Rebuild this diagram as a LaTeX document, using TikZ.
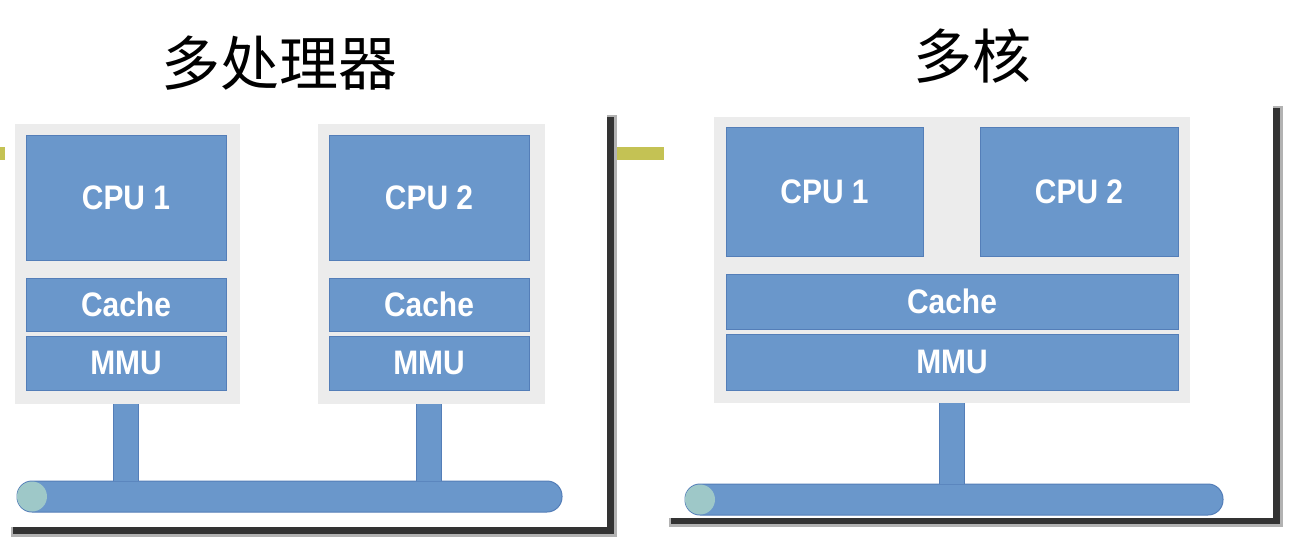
\documentclass[tikz,border=0pt]{standalone}
\usepackage{fontspec}
\newfontfamily\cjk{Noto Sans CJK SC}
\newfontfamily\lblfont{Liberation Sans}
\usetikzlibrary{positioning}
\definecolor{cpublue}{RGB}{106,151,203}
\definecolor{cpuedge}{RGB}{84,126,184}
\definecolor{boxgrey}{RGB}{236,236,236}
\definecolor{busend}{RGB}{158,200,200}
\definecolor{olive}{RGB}{196,194,84}
\newcommand{\lbl}[1]{\scalebox{0.88}[1]{#1}}

\begin{document}
\begin{tikzpicture}[x=1pt,y=-1pt,
				every node/.style={outer sep=0pt,inner sep=0pt},
				unit/.style={fill=cpublue,draw=cpuedge,line width=1pt,text=white,
					font=\lblfont\bfseries\fontsize{34}{34}\selectfont},
				greybox/.style={fill=boxgrey},
				stem/.style={draw=cpuedge,double=cpublue,double distance=24pt,line width=1pt},
				bus/.style={fill=cpublue,draw=cpuedge,line width=1pt,rounded corners=15pt,minimum height=31pt},
				busdot/.style={circle,fill=busend,minimum size=30pt},
				title/.style={font=\cjk\fontsize{59}{59}\selectfont}]
				\useasboundingbox (0,0) rectangle (1290,542);
				% cards with shadow
				\fill[olive] (0,147) rectangle (5,160);
				\fill[black!30] (11,115) rectangle (617,537);
				\fill[black!80] (13,117) rectangle (614,534);
				\fill[white] (5,110) rectangle (607,527);
				\fill[olive] (617,147) rectangle (667,160);
				\fill[black!30] (669,106) rectangle (1283,527);
				\fill[black!80] (671,108) rectangle (1280,524);
				\fill[white] (664,100) rectangle (1273,518);

				\node[title] (T1) at (279.5,63) {多处理器};
				\node[title] (T2) at (972,56)   {多核};

				% multiprocessor
				\node[greybox,minimum width=225pt,minimum height=280pt] (gA) at (127.5,264) {};
				\node[greybox,minimum width=227pt,minimum height=280pt] (gB) at (431.5,264) {};
				\node[unit,minimum width=200pt,minimum height=125pt] (cpuA) at (126,197.5) {\lbl{CPU 1}};
				\node[unit,minimum width=200pt,minimum height=53pt] (cacheA) [below=18pt of cpuA] {\lbl{Cache}};
				\node[unit,minimum width=200pt,minimum height=54pt] (mmuA)   [below=5pt of cacheA] {\lbl{MMU}};
				\node[unit,minimum width=200pt,minimum height=125pt] (cpuB) at (429,197.5) {\lbl{CPU 2}};
				\node[unit,minimum width=200pt,minimum height=53pt] (cacheB) [below=18pt of cpuB] {\lbl{Cache}};
				\node[unit,minimum width=200pt,minimum height=54pt] (mmuB)   [below=5pt of cacheB] {\lbl{MMU}};
				\node[bus,minimum width=545pt] (busA) at (289.5,496.5) {};
				\node[busdot] (dotA) at ([xshift=15pt]busA.west) {};

				\draw[stem] (cpuA.south |- gA.south) -- (cpuA.south |- busA.north);
				\draw[stem] (cpuB.south |- gB.south) -- (cpuB.south |- busA.north);

				% multicore
				\node[greybox,minimum width=476pt,minimum height=286pt] (gC) at (952,260) {};
				\node[unit,minimum width=197pt,minimum height=129pt] (cpuC) at (824.5,191.5) {\lbl{CPU 1}};
				\node[unit,minimum width=198pt,minimum height=129pt] (cpuD) at (1079,191.5) {\lbl{CPU 2}};
				\node[unit,minimum width=452pt,minimum height=55pt] (cacheC) at (952,301.5) {\lbl{Cache}};
				\node[unit,minimum width=452pt,minimum height=56pt] (mmuC)   [below=5pt of cacheC] {\lbl{MMU}};
				\node[bus,minimum width=538pt] (busC) at (954,499.5) {};
				\node[busdot] (dotC) at ([xshift=15pt]busC.west) {};

				\draw[stem] (gC.south) -- (gC.south |- busC.north);
			\end{tikzpicture}
\end{document}
